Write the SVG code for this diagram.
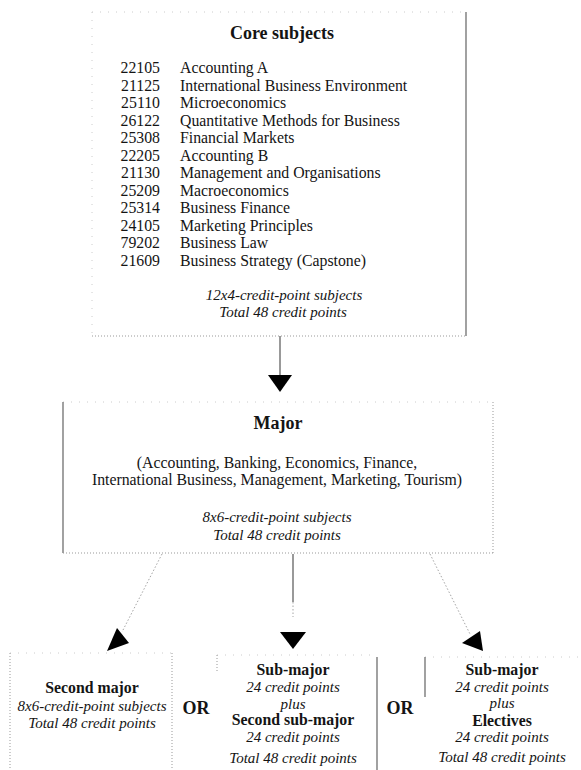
<svg xmlns="http://www.w3.org/2000/svg" width="581" height="770" viewBox="0 0 581 770">
  <style>
    .t { font-family: "Liberation Serif", "Times New Roman", serif; fill: #141414; font-size: 15.8px; }
    .b { font-weight: bold; }
    .i { font-style: italic; font-size: 15px; }
    .c { text-anchor: middle; }
    .e { text-anchor: end; }
    .h { font-size: 18px; }
    .solid { stroke: #7a7a7a; stroke-width: 1.4; fill: none; }
    .dot { stroke: #999; stroke-width: 1; stroke-dasharray: 1 2; fill: none; }
    .faint { stroke: #cccccc; stroke-width: 1; stroke-dasharray: 1 7; fill: none; }
    .link { stroke: #555; stroke-width: 1.2; fill: none; }
    .dlink { stroke: #a5a5a5; stroke-width: 1; stroke-dasharray: 1.5 2; fill: none; }
    .head { fill: #000; }
  </style>

  <rect width="581" height="770" fill="#fff"/>

  <!-- Core subjects box -->
  <g id="core-subjects">
    <line class="faint" x1="92" y1="12" x2="466" y2="12"/>
    <line class="faint" x1="92" y1="12" x2="92" y2="336"/>
    <line class="solid" x1="466" y1="12" x2="466" y2="336"/>
    <line class="dot" x1="92" y1="336" x2="466" y2="336"/>
    <text class="t b c h" x="282" y="39">Core subjects</text>
    <g class="t">
      <text class="e" x="160" y="73">22105</text><text x="180" y="73">Accounting A</text>
      <text class="e" x="160" y="90.5">21125</text><text x="180" y="90.5">International Business Environment</text>
      <text class="e" x="160" y="108">25110</text><text x="180" y="108">Microeconomics</text>
      <text class="e" x="160" y="125.5">26122</text><text x="180" y="125.5">Quantitative Methods for Business</text>
      <text class="e" x="160" y="143">25308</text><text x="180" y="143">Financial Markets</text>
      <text class="e" x="160" y="160.5">22205</text><text x="180" y="160.5">Accounting B</text>
      <text class="e" x="160" y="178">21130</text><text x="180" y="178">Management and Organisations</text>
      <text class="e" x="160" y="195.5">25209</text><text x="180" y="195.5">Macroeconomics</text>
      <text class="e" x="160" y="213">25314</text><text x="180" y="213">Business Finance</text>
      <text class="e" x="160" y="230.5">24105</text><text x="180" y="230.5">Marketing Principles</text>
      <text class="e" x="160" y="248">79202</text><text x="180" y="248">Business Law</text>
      <text class="e" x="160" y="265.5">21609</text><text x="180" y="265.5">Business Strategy (Capstone)</text>
    </g>
    <text class="t i c" x="284" y="300">12x4-credit-point subjects</text>
    <text class="t i c" x="283" y="317">Total 48 credit points</text>
  </g>

  <!-- Major box -->
  <g id="major">
    <line class="faint" x1="63" y1="402" x2="493" y2="402"/>
    <line class="solid" x1="63" y1="402" x2="63" y2="553"/>
    <line class="dot" x1="493" y1="402" x2="493" y2="553"/>
    <line class="dot" x1="63" y1="553" x2="493" y2="553"/>
    <text class="t b c h" x="278" y="429">Major</text>
    <text class="t c" x="277" y="468">(Accounting, Banking, Economics, Finance,</text>
    <text class="t c" x="277" y="485">International Business, Management, Marketing, Tourism)</text>
    <text class="t i c" x="277" y="522">8x6-credit-point subjects</text>
    <text class="t i c" x="277" y="540">Total 48 credit points</text>
  </g>

  <!-- Option 1: second major -->
  <g id="second-major">
    <line class="faint" x1="10" y1="653" x2="172" y2="653"/>
    <line class="dot" x1="10" y1="653" x2="10" y2="770"/>
    <line class="dot" x1="172" y1="653" x2="172" y2="770"/>
    <text class="t b c" x="92" y="693">Second major</text>
    <text class="t i c" x="92" y="711">8x6-credit-point subjects</text>
    <text class="t i c" x="92" y="728">Total 48 credit points</text>
  </g>

  <g id="or-1">
    <text class="t b c h" x="196" y="714">OR</text>
  </g>

  <!-- Option 2: two sub-majors -->
  <g id="sub-major-pair">
    <line class="faint" x1="217" y1="655" x2="377" y2="655"/>
    <line class="dot" x1="217" y1="655" x2="217" y2="672"/>
    <line class="solid" x1="377" y1="657" x2="377" y2="770"/>
    <text class="t b c" x="293" y="675">Sub-major</text>
    <text class="t i c" x="293" y="692">24 credit points</text>
    <text class="t i c" x="293" y="709">plus</text>
    <text class="t b c" x="293" y="725">Second sub-major</text>
    <text class="t i c" x="293" y="742">24 credit points</text>
    <text class="t i c" x="293" y="763">Total 48 credit points</text>
  </g>

  <g id="or-2">
    <text class="t b c h" x="400" y="714">OR</text>
  </g>

  <!-- Option 3: sub-major plus electives -->
  <g id="sub-major-electives">
    <line class="faint" x1="425" y1="657" x2="581" y2="657"/>
    <line class="solid" x1="425" y1="657" x2="425" y2="697"/>
    <text class="t b c" x="502" y="675">Sub-major</text>
    <text class="t i c" x="502" y="692">24 credit points</text>
    <text class="t i c" x="502" y="708">plus</text>
    <text class="t b c" x="502" y="726">Electives</text>
    <text class="t i c" x="502" y="742">24 credit points</text>
    <text class="t i c" x="502" y="762">Total 48 credit points</text>
  </g>

  <!-- Connectors -->
  <g id="connectors">
    <line class="link" x1="280" y1="336" x2="280" y2="376"/>
    <polygon class="head" points="268,375 292,375 280,392"/>

    <line class="dlink" x1="162" y1="554" x2="122" y2="632"/>
    <polygon class="head" points="107,651 117,628 129,643"/>

    <line class="link" x1="293" y1="554" x2="293" y2="602"/>
    <line class="dlink" x1="293" y1="602" x2="293" y2="617"/>
    <polygon class="head" points="280,632 306,632 293,649"/>

    <line class="dlink" x1="430" y1="554" x2="470" y2="634"/>
    <polygon class="head" points="462,643 480,631 483,651"/>
  </g>
</svg>
